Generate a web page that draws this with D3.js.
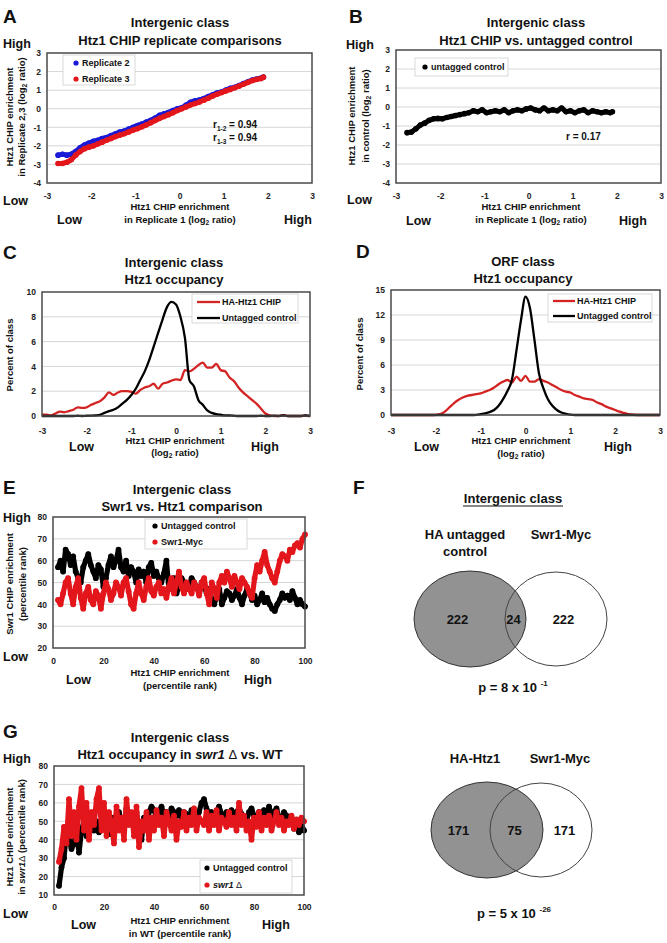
<!DOCTYPE html>
<html><head><meta charset="utf-8">
<script src="https://cdn.jsdelivr.net/npm/d3@7"></script>
<style>
body{margin:0;background:#fff;}
svg{font-family:"Liberation Sans",Arial,Helvetica,sans-serif;font-weight:bold;}
</style></head><body>
<svg id="fig" width="667" height="943"></svg>
<script>
// ---------------- DATA ----------------
// Panel A / B : Htz1 ChIP enrichment in replicate 1 (log2) vs. replicates 2,3 and untagged control
const repX = [-2.75,-2.65,-2.55,-2.45,-2.35,-2.25,-2.15,-2.05,-1.95,-1.85,-1.75,-1.65,-1.55,-1.45,-1.35,-1.25,-1.15,-1.05,-0.95,-0.85,-0.75,-0.65,-0.55,-0.45,-0.35,-0.25,-0.15,-0.05,0.05,0.15,0.25,0.35,0.45,0.55,0.65,0.75,0.85,0.95,1.05,1.15,1.25,1.35,1.45,1.55,1.65,1.75,1.85,1.9];
const replicate2 = [-2.5,-2.45,-2.5,-2.45,-2.3,-2.1,-1.95,-1.85,-1.75,-1.7,-1.6,-1.55,-1.45,-1.35,-1.25,-1.2,-1.1,-1.0,-0.9,-0.82,-0.72,-0.62,-0.5,-0.35,-0.28,-0.2,-0.1,0.0,0.05,0.2,0.35,0.42,0.47,0.55,0.65,0.75,0.85,0.9,1.0,1.1,1.15,1.25,1.35,1.45,1.55,1.6,1.65,1.7];
const replicate3 = [-2.95,-2.95,-2.88,-2.75,-2.5,-2.3,-2.15,-2.07,-2.0,-1.9,-1.8,-1.7,-1.6,-1.5,-1.42,-1.35,-1.25,-1.15,-1.07,-0.97,-0.87,-0.75,-0.63,-0.52,-0.42,-0.32,-0.22,-0.1,0.0,0.1,0.2,0.28,0.36,0.46,0.56,0.68,0.78,0.87,0.96,1.04,1.13,1.22,1.32,1.42,1.52,1.58,1.63,1.7];
const untaggedB = [-1.35,-1.32,-1.15,-0.95,-0.85,-0.7,-0.62,-0.6,-0.62,-0.55,-0.5,-0.45,-0.4,-0.35,-0.3,-0.2,-0.25,-0.15,-0.3,-0.25,-0.2,-0.25,-0.15,-0.3,-0.2,-0.15,-0.2,-0.1,-0.05,-0.15,-0.2,-0.05,-0.2,-0.15,-0.2,-0.05,-0.25,-0.2,-0.3,-0.2,-0.15,-0.3,-0.2,-0.25,-0.3,-0.25,-0.3,-0.25];
const corrA = ["0.94","0.94"];
const corrB = "0.17";

// Panels C / D : distributions (percent of class) vs log2 ratio
const densX = [-3.0,-2.9,-2.8,-2.7,-2.6,-2.5,-2.4,-2.3,-2.2,-2.1,-2.0,-1.9,-1.8,-1.7,-1.6,-1.5,-1.4,-1.3,-1.2,-1.1,-1.0,-0.9,-0.8,-0.7,-0.6,-0.5,-0.4,-0.3,-0.2,-0.1,0.0,0.1,0.2,0.3,0.4,0.5,0.6,0.7,0.8,0.9,1.0,1.1,1.2,1.3,1.4,1.5,1.6,1.7,1.8,1.9,2.0,2.1,2.2,2.3,2.4,2.5,2.6,2.7,2.8,2.9,3.0];
const cHtz1 = [0.1,0.1,0.05,0.2,0.35,0.3,0.4,0.5,0.7,0.65, 0.7,0.9,1.05,1.2,1.5,1.9,1.7,1.9,2.0,2.0, 1.95,1.8,2.1,2.3,2.4,2.6,2.2,2.6,2.7,2.85, 2.95,2.9,3.7,3.6,3.8,4.1,4.3,3.9,3.9,4.2, 3.7,3.6,3.1,2.8,2.3,1.9,1.6,1.3,1.0,0.6, 0.2,0.05,0,0,0.05,0,0,0,0,0.02,0];
const cUntagged = [0,0,0,0,0,0,0,0,0.02,0,0.02, 0.03,0.05,0.1,0.25,0.4,0.5,0.7,1.0,1.3, 1.7,2.2,2.9,3.6,4.5,5.6,6.7,7.8,8.8,9.2, 9.0,8.0,6.3,2.9,2.4,1.3,0.9,0.45,0.25,0.15, 0.1,0.05,0.05,0.02,0,0,0,0,0,0.02, 0,0,0.02,0,0.05,0,0,0,0,0.05,0];
const dHtz1 = [0,0,0,0,0,0,0,0,0,0,0.02, 0.1,0.4,0.9,1.4,1.8,2.1,2.3,2.4,2.5, 2.6,2.8,3.0,3.3,3.7,4.0,4.2,3.9,4.6,4.1, 4.7,4.0,4.0,4.3,4.1,3.9,3.6,3.3,3.0,2.8, 2.7,2.4,2.2,2.0,1.9,1.8,1.5,1.3,1.0,0.8, 0.6,0.4,0.25,0.1,0.05,0,0,0,0,0,0];
const dUntagged = [0,0,0,0,0,0,0,0,0,0,0, 0,0,0,0,0,0,0,0,0.02, 0.1,0.2,0.35,0.6,1.1,1.9,2.9,4.3,7.8,11.4, 14.2,12.8,9.0,5.0,3.2,1.9,1.1,0.6,0.3,0.15, 0.05,0,0,0,0,0,0,0,0,0, 0,0,0,0,0,0,0,0,0,0,0];

// Panels E / G : percentile ranks
const ranks = [2,3,4,5,6,7,8,9,10,11,12,13,14,15,16,17,18,19,20,21,22,23,24,25,26,27,28,29,30,31,32,33,34,35,36,37,38,39,40,41,42,43,44,45,46,47,48,49,50,51,52,53,54,55,56,57,58,59,60,61,62,63,64,65,66,67,68,69,70,71,72,73,74,75,76,77,78,79,80,81,82,83,84,85,86,87,88,89,90,91,92,93,94,95,96,97,98,99,100];
const eUntagged = [57,60,55,65,63,58,62,55,52,50, 57,60,63,58,55,52,58,56,48,52, 58,62,57,60,65,57,55,60,53,57, 55,50,56,53,55,50,57,59,53,55, 52,50,54,60,47,50,52,45,48,52, 50,47,48,52,50,48,45,50,48,45, 47,42,40,44,47,40,43,46,45,42, 44,47,43,40,44,47,45,42,44,40, 42,45,41,43,40,38,37,40,42,45, 43,44,42,46,43,40,42,40,39];
const eSwr1 = [42,40,45,50,52,45,40,48,52,43, 38,45,48,42,40,46,44,38,45,50, 47,42,45,50,48,44,50,52,46,40, 38,45,50,45,42,48,52,46,44,48, 50,45,47,43,48,52,45,50,55,48, 45,50,47,45,50,48,44,50,52,45, 40,50,47,43,50,53,50,55,52,48, 53,50,47,52,50,48,45,43,52,58, 55,60,64,58,55,52,50,55,60,63, 62,60,65,64,67,68,66,70,72];
const gUntagged = [15,25,30,45,40,35,38,45,33,45, 50,42,46,48,45,50,44,48,50,47, 43,50,52,48,55,50,45,57,52,50, 48,55,42,40,52,48,55,58,56,52, 55,58,53,55,52,57,55,53,56,52, 55,54,50,56,53,52,55,60,62,57, 53,55,52,55,58,54,52,55,53,56, 52,55,57,54,52,50,55,57,53,50, 55,52,56,50,58,53,55,57,52,50, 55,53,50,52,46,50,44,48,45];
const gSwr1 = [28,35,47,38,62,42,55,40,58,68, 45,60,40,55,48,62,68,45,60,42, 55,48,38,58,45,52,40,62,48,55, 42,58,36,50,45,55,40,52,45,56, 48,52,42,55,50,45,53,40,50,47, 55,45,52,48,57,45,52,50,48,55, 45,53,48,56,45,52,50,47,55,48, 52,45,60,48,53,45,50,40,52,47, 55,45,52,48,53,45,50,55,48,52, 45,50,48,53,46,51,48,52,50];

// Panel F : Venn counts [left only, overlap, right only]
const venn1Counts = [222, 24, 222];
const venn1Labels = ["HA untagged|control", "Swr1-Myc"];
const venn1P = ["8", "-1"];
const venn2Counts = [171, 75, 171];
const venn2Labels = ["HA-Htz1", "Swr1-Myc"];
const venn2P = ["5", "-26"];

// Tick values
const logTicks = [-3,-2,-1,0,1,2,3];
const aYTicks = [-4,-3,-2,-1,0,1,2,3];
const cYTicks = [0,2,4,6,8,10];
const dYTicks = [0,3,6,9,12,15];
const pctTicks = [0,20,40,60,80,100];
const eYTicks = [20,30,40,50,60,70,80];
const gYTicks = [10,20,30,40,50,60,70,80];

// ---------------- DRAWING ----------------
const svg = d3.select("#fig");
const RED = "#e3161b", BLUE = "#1a1ad6", BLACK = "#000";

function txt(x, y, s, size, anchor = "start", parent = svg) {
  return parent.append("text").attr("x", x).attr("y", y).attr("font-size", size)
    .attr("text-anchor", anchor).attr("fill", "#111").text(s);
}
function log2Text(x, y, pre, post, size, anchor, rotate) {
  const t = svg.append("text").attr("font-size", size).attr("text-anchor", anchor).attr("fill", "#111");
  if (rotate) t.attr("transform", `translate(${x},${y}) rotate(-90)`);
  else t.attr("x", x).attr("y", y);
  t.append("tspan").text(pre);
  t.append("tspan").attr("font-size", size * 0.7).attr("dy", 2).text("2");
  t.append("tspan").attr("dy", -2).text(post);
  return t;
}
function rotText(x, y, s, size) {
  return svg.append("text").attr("transform", `translate(${x},${y}) rotate(-90)`)
    .attr("font-size", size).attr("text-anchor", "middle").attr("fill", "#111").text(s);
}

function frame(c) {
  const x = d3.scaleLinear().domain(c.xDomain).range([c.left, c.right]);
  const y = d3.scaleLinear().domain(c.yDomain).range([c.bottom, c.top]);
  const g = svg.append("g");
  g.selectAll("line.grid").data(c.yTicks.slice(1, -1)).join("line").attr("class", "grid")
    .attr("x1", c.left).attr("x2", c.right).attr("y1", d => y(d)).attr("y2", d => y(d))
    .attr("stroke", "#d6d6d6").attr("stroke-width", 1);
  const xa = g.append("g").attr("transform", `translate(0,${c.bottom})`)
    .call(d3.axisBottom(x).tickValues(c.xTicks).tickSize(0).tickPadding(c.xPad).tickFormat(d => String(d)));
  const ya = g.append("g").attr("transform", `translate(${c.left},0)`)
    .call(d3.axisLeft(y).tickValues(c.yTicks).tickSize(0).tickPadding(c.yPad || 6).tickFormat(d => String(d)));
  [xa, ya].forEach(a => {
    a.select(".domain").remove();
    a.attr("font-family", null).attr("font-size", null);
    a.selectAll("text").attr("font-size", 8.5).attr("font-weight", "bold").attr("fill", "#222");
  });
  const plot = g.append("g");
  g.append("rect").attr("x", c.left).attr("y", c.top).attr("width", c.right - c.left).attr("height", c.bottom - c.top)
    .attr("fill", "none").attr("stroke", "#4a4a4a").attr("stroke-width", 1.5);
  return { x, y, plot, g };
}

function dotSeries(f, xs, ys, color, lw, r) {
  const pts = xs.map((d, i) => [f.x(d), f.y(ys[i])]);
  f.plot.append("path").attr("d", d3.line()(pts)).attr("fill", "none").attr("stroke", color)
    .attr("stroke-width", lw).attr("stroke-linejoin", "round").attr("stroke-linecap", "round");
  f.plot.selectAll(null).data(pts).join("circle").attr("cx", d => d[0]).attr("cy", d => d[1]).attr("r", r).attr("fill", color);
}
function lineSeries(f, xs, ys, color) {
  const pts = xs.map((d, i) => [f.x(d), f.y(ys[i])]);
  f.plot.append("path").attr("d", d3.line().curve(d3.curveMonotoneX)(pts)).attr("fill", "none")
    .attr("stroke", color).attr("stroke-width", 2.3).attr("stroke-linejoin", "round");
}
function legendBox(x0, y0, w, h) {
  svg.append("rect").attr("x", x0).attr("y", y0).attr("width", w).attr("height", h)
    .attr("fill", "#fff").attr("stroke", "#cfcfcf").attr("stroke-width", 0.8);
}
function legendDot(x, y, color, label, italic) {
  svg.append("circle").attr("cx", x).attr("cy", y).attr("r", 2.6).attr("fill", color);
  const t = svg.append("text").attr("x", x + 6).attr("y", y + 3.2).attr("font-size", 9).attr("fill", "#111");
  if (italic) {
    t.append("tspan").attr("font-style", "italic").text(italic);
    t.append("tspan").attr("font-weight", "normal").text(" \u0394");
  } else t.text(label);
}
function legendLine(x1, x2, y, color, label) {
  svg.append("line").attr("x1", x1).attr("x2", x2).attr("y1", y).attr("y2", y).attr("stroke", color).attr("stroke-width", 2.3);
  txt(x2 + 2, y + 3.2, label, 9);
}

// ===== Panel A =====
txt(3, 23, "A", 19);
txt(180, 27, "Intergenic class", 13, "middle");
txt(180, 44.5, "Htz1 CHIP replicate comparisons", 13, "middle");
txt(3, 48, "High", 12.5);
txt(3, 205, "Low", 12.5);
{
  const f = frame({ left: 47, right: 312, top: 53, bottom: 183, xDomain: [-3, 3], yDomain: [-4, 3], xTicks: logTicks, yTicks: aYTicks, xPad: 10 });
  dotSeries(f, repX, replicate2, BLUE, 5, 2.8);
  dotSeries(f, repX, replicate3, RED, 5, 2.8);
  legendBox(63, 55, 72, 30);
  legendDot(76, 63, BLUE, "Replicate 2");
  legendDot(76, 79, RED, "Replicate 3");
  [0, 1].forEach(i => {
    const t = svg.append("text").attr("x", 213).attr("y", 128 + i * 13).attr("font-size", 10).attr("fill", "#111");
    t.append("tspan").text("r");
    t.append("tspan").attr("font-size", 6.5).attr("dy", 2.5).text(i === 0 ? "1-2" : "1-3");
    t.append("tspan").attr("dy", -2.5).text(" = " + corrA[i]);
  });
}
txt(180, 210, "Htz1 CHIP enrichment", 9.5, "middle");
log2Text(180, 223, "in Replicate 1 (log", " ratio)", 9.5, "middle");
txt(57, 224, "Low", 12.5);
txt(284, 224, "High", 12.5);
rotText(13, 117, "Htz1 CHIP enrichment", 9.5);
log2Text(25, 117, "in Replicate 2,3 (log", " ratio)", 9.5, "middle", true);

// ===== Panel B =====
txt(349, 23, "B", 19);
txt(536, 27, "Intergenic class", 13, "middle");
txt(536, 44.5, "Htz1 CHIP vs. untagged control", 13, "middle");
txt(346, 49, "High", 12.5);
txt(347, 204, "Low", 12.5);
{
  const f = frame({ left: 396, right: 661, top: 50, bottom: 183, xDomain: [-3, 3], yDomain: [-4, 3], xTicks: logTicks, yTicks: aYTicks, xPad: 10 });
  dotSeries(f, repX, untaggedB, BLACK, 5, 2.8);
  legendBox(415, 58, 93, 18);
  legendDot(425, 67, BLACK, "untagged control");
  txt(566, 140, "r  = " + corrB, 10);
}
txt(531, 210, "Htz1 CHIP enrichment", 9.5, "middle");
log2Text(531, 223, "in Replicate 1 (log", " ratio)", 9.5, "middle");
txt(406, 225, "Low", 12.5);
txt(619, 225, "High", 12.5);
rotText(355, 116, "Htz1 CHIP enrichment", 9.5);
log2Text(369, 116, "in control (log", " ratio)", 9.5, "middle", true);

// ===== Panel C =====
txt(3, 259, "C", 19);
txt(174, 267, "Intergenic class", 13, "middle");
txt(174, 284, "Htz1 occupancy", 13, "middle");
{
  const f = frame({ left: 42, right: 310, top: 292, bottom: 416, xDomain: [-3, 3], yDomain: [0, 10], xTicks: logTicks, yTicks: cYTicks, xPad: 12 });
  lineSeries(f, densX, cHtz1, "#d42323");
  lineSeries(f, densX, cUntagged, BLACK);
  legendBox(192, 294, 106, 29);
  legendLine(197, 220, 302, "#d42323", "HA-Htz1 CHIP");
  legendLine(197, 220, 318, BLACK, "Untagged control");
}
rotText(13, 355, "Percent of class", 9.5);
txt(175, 444, "Htz1 CHIP enrichment", 9.5, "middle");
log2Text(175, 456, "(log", " ratio)", 9.5, "middle");
txt(69, 451, "Low", 12.5);
txt(251, 451, "High", 12.5);

// ===== Panel D =====
txt(356, 258, "D", 19);
txt(523, 266, "ORF class", 13, "middle");
txt(523, 283, "Htz1 occupancy", 13, "middle");
{
  const f = frame({ left: 391, right: 660, top: 290, bottom: 415, xDomain: [-3, 3], yDomain: [0, 15], xTicks: logTicks, yTicks: dYTicks, xPad: 13 });
  lineSeries(f, densX, dHtz1, "#d42323");
  lineSeries(f, densX, dUntagged, BLACK);
  legendBox(548, 294, 104, 28);
  legendLine(553, 575, 301, "#d42323", "HA-Htz1 CHIP");
  legendLine(553, 575, 316, BLACK, "Untagged control");
}
rotText(363, 354, "Percent of class", 9.5);
txt(521, 444, "Htz1 CHIP enrichment", 9.5, "middle");
log2Text(521, 457, "(log", " ratio)", 9.5, "middle");
txt(414, 451, "Low", 12.5);
txt(604, 451, "High", 12.5);

// ===== Panel E =====
txt(3, 494, "E", 19);
txt(182, 494, "Intergenic class", 13, "middle");
txt(182, 511, "Swr1 vs. Htz1 comparison", 13, "middle");
txt(3, 522, "High", 12.5);
txt(3, 661, "Low", 12.5);
{
  const f = frame({ left: 53, right: 305, top: 517, bottom: 648, xDomain: [0, 100], yDomain: [20, 80], xTicks: pctTicks, yTicks: eYTicks, xPad: 10 });
  dotSeries(f, ranks, eUntagged, BLACK, 5.2, 2.9);
  dotSeries(f, ranks, eSwr1, RED, 5.2, 2.9);
  legendBox(145, 519, 102, 30);
  legendDot(155, 526, BLACK, "Untagged control");
  legendDot(155, 542, RED, "Swr1-Myc");
}
rotText(13, 584, "Swr1 CHIP enrichment", 9.5);
rotText(26, 584, "(percentile rank)", 9.5);
txt(180, 676, "Htz1 CHIP enrichment", 9.5, "middle");
txt(180, 689, "(percentile rank)", 9.5, "middle");
txt(66, 684, "Low", 12.5);
txt(244, 684, "High", 12.5);

// ===== Panel G =====
txt(3, 738, "G", 19);
txt(180, 742, "Intergenic class", 13, "middle");
{
  const t = svg.append("text").attr("x", 180).attr("y", 759).attr("font-size", 13).attr("text-anchor", "middle").attr("fill", "#111");
  t.append("tspan").text("Htz1 occupancy in ");
  t.append("tspan").attr("font-style", "italic").text("swr1");
  t.append("tspan").attr("font-weight", "normal").text(" \u0394");
  t.append("tspan").text(" vs. WT");
}
txt(3, 763, "High", 12.5);
txt(3, 918, "Low", 12.5);
{
  const f = frame({ left: 54, right: 304, top: 766, bottom: 895, xDomain: [0, 100], yDomain: [10, 80], xTicks: pctTicks, yTicks: gYTicks, xPad: 9 });
  dotSeries(f, ranks, gUntagged, BLACK, 5.2, 2.9);
  dotSeries(f, ranks, gSwr1, RED, 5.2, 2.9);
  legendBox(200, 860, 92, 33);
  legendDot(207, 868, BLACK, "Untagged control");
  legendDot(207, 885, RED, null, "swr1");
}
rotText(13, 837, "Htz1 CHIP enrichment", 9.5);
{
  const t = svg.append("text").attr("transform", "translate(25,837) rotate(-90)").attr("font-size", 9.5).attr("text-anchor", "middle").attr("fill", "#111");
  t.append("tspan").text("in ");
  t.append("tspan").attr("font-style", "italic").text("swr1");
  t.append("tspan").attr("font-weight", "normal").text("\u0394");
  t.append("tspan").text(" (percentile rank)");
}
txt(180, 924, "Htz1 CHIP enrichment", 9.5, "middle");
txt(180, 937, "in WT (percentile rank)", 9.5, "middle");
txt(71, 929, "Low", 12.5);
txt(262, 929, "High", 12.5);

// ===== Panel F (Venn) =====
txt(353, 494, "F", 19);
{
  txt(513, 503, "Intergenic class", 13, "middle");
  svg.append("line").attr("x1", 513 - 50).attr("x2", 513 + 50).attr("y1", 506).attr("y2", 506).attr("stroke", "#111").attr("stroke-width", 1);
}
const overlapDist = d3.scaleLinear().domain([venn1Counts[1], venn2Counts[1]]).range([86, 54]);
function venn(cx, cy, counts, labels, pv, labelY, pY, labelDx) {
  const d = overlapDist(counts[1]);
  const gx = cx - d / 2, wx = cx + d / 2;
  const grx = 56, gry = 48, wrx = 51, wry = 47;
  svg.append("ellipse").attr("cx", wx).attr("cy", cy).attr("rx", wrx).attr("ry", wry).attr("fill", "#fff");
  svg.append("ellipse").attr("cx", gx).attr("cy", cy).attr("rx", grx).attr("ry", gry).attr("fill", "#929292").attr("stroke", "#333").attr("stroke-width", 1);
  svg.append("ellipse").attr("cx", wx).attr("cy", cy).attr("rx", wrx).attr("ry", wry).attr("fill", "none").attr("stroke", "#444").attr("stroke-width", 1);
  const gL = gx - grx, gR = gx + grx, wL = wx - wrx, wR = wx + wrx;
  const pos = [(gL + wL) / 2 - 2, (gR + wL) / 2 - 2, (gR + wR) / 2 - 3];
  counts.forEach((c, i) => txt(pos[i], cy + 5, String(c), 13, "middle"));
  const left = labels[0].split("|");
  left.forEach((s, i) => txt(cx + labelDx[0], labelY + i * 17, s, 13, "middle"));
  txt(cx + labelDx[1], labelY, labels[1], 13, "middle");
  const p = svg.append("text").attr("x", cx).attr("y", pY).attr("font-size", 13).attr("text-anchor", "middle").attr("fill", "#111");
  p.append("tspan").text("p = " + pv[0] + " x 10 ");
  p.append("tspan").attr("font-size", 8).attr("dy", -6).text(pv[1]);
}
venn(513, 619, venn1Counts, venn1Labels, venn1P, 539, 692, [-48, 48]);
venn(514, 830, venn2Counts, venn2Labels, venn2P, 763, 918, [-39, 46]);
</script>
</body></html>
